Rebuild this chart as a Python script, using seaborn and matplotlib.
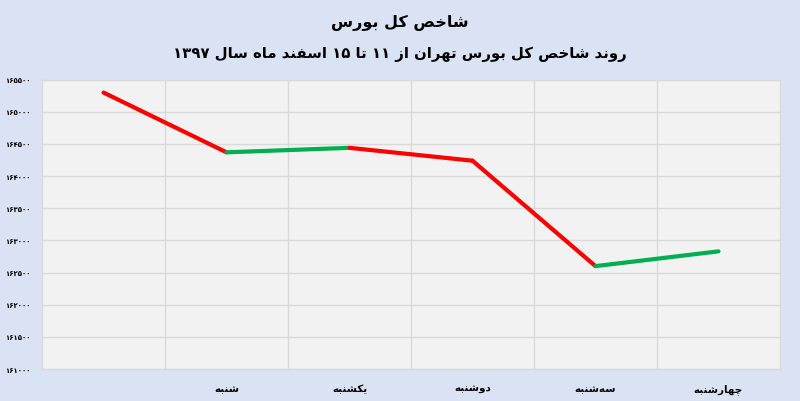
import numpy as np
import pandas as pd
import matplotlib
matplotlib.use('Agg')
import matplotlib.pyplot as plt
import seaborn as sns

# data
days = ['', 'شنبه', 'یکشنبه', 'دوشنبه', 'سه‌شنبه', 'چهارشنبه']
index_values = [165300, 164370, 164440, 164240, 162600, 162830]
y_ticks = list(range(161000, 165501, 500))
title_main = 'شاخص کل بورس'
title_sub = 'روند شاخص کل بورس تهران از ۱۱ تا ۱۵ اسفند ماه سال ۱۳۹۷'

# minimal persian shaping (matplotlib has no bidi / joining)
FORMS = {
    'ا': ('\uFE8D', '\uFE8E', None, None),
    'ب': ('\uFE8F', '\uFE90', '\uFE91', '\uFE92'),
    'ت': ('\uFE95', '\uFE96', '\uFE97', '\uFE98'),
    'خ': ('\uFEA5', '\uFEA6', '\uFEA7', '\uFEA8'),
    'د': ('\uFEA9', '\uFEAA', None, None),
    'ر': ('\uFEAD', '\uFEAE', None, None),
    'ز': ('\uFEAF', '\uFEB0', None, None),
    'س': ('\uFEB1', '\uFEB2', '\uFEB3', '\uFEB4'),
    'ش': ('\uFEB5', '\uFEB6', '\uFEB7', '\uFEB8'),
    'ص': ('\uFEB9', '\uFEBA', '\uFEBB', '\uFEBC'),
    'ف': ('\uFED1', '\uFED2', '\uFED3', '\uFED4'),
    'ل': ('\uFEDD', '\uFEDE', '\uFEDF', '\uFEE0'),
    'م': ('\uFEE1', '\uFEE2', '\uFEE3', '\uFEE4'),
    'ن': ('\uFEE5', '\uFEE6', '\uFEE7', '\uFEE8'),
    'ه': ('\uFEE9', '\uFEEA', '\uFEEB', '\uFEEC'),
    'و': ('\uFEED', '\uFEEE', None, None),
    'ک': ('\uFB8E', '\uFB8F', '\uFB90', '\uFB91'),
    'ی': ('\uFBFC', '\uFBFD', '\uFBFE', '\uFBFF'),
    'چ': ('\uFB7A', '\uFB7B', '\uFB7C', '\uFB7D'),
}


def joins_next(c):
    return c in FORMS and FORMS[c][2] is not None


def shape_word(word):
    out = []
    for i, c in enumerate(word):
        if c not in FORMS:
            if c != '\u200c':
                out.append(c)
            continue
        prev = word[i - 1] if i > 0 else ''
        nxt = word[i + 1] if i + 1 < len(word) else ''
        p = joins_next(prev)
        n = joins_next(c) and nxt in FORMS
        iso, fin, ini, med = FORMS[c]
        if p and n:
            out.append(med)
        elif n:
            out.append(ini)
        elif p:
            out.append(fin)
        else:
            out.append(iso)
    return ''.join(reversed(out))


def fa(text):
    words = []
    for w in text.split(' '):
        if all('\u06F0' <= ch <= '\u06F9' for ch in w):
            words.append(w)
        else:
            words.append(shape_word(w))
    return ' '.join(reversed(words))


def fa_digits(n):
    return ''.join('۰۱۲۳۴۵۶۷۸۹'[int(d)] for d in str(n))


# one row pair per segment so each piece gets its own colour
rows = []
seg_colors = {}
for i in range(len(index_values) - 1):
    rows.append({'x': i, 'y': index_values[i], 'seg': i})
    rows.append({'x': i + 1, 'y': index_values[i + 1], 'seg': i})
    seg_colors[i] = '#FF0000' if index_values[i + 1] < index_values[i] else '#00B050'
df = pd.DataFrame(rows)

sns.set_style('white')
plt.rcParams['font.family'] = ['DejaVu Sans']
plt.rcParams['text.color'] = 'black'
plt.rcParams['xtick.color'] = 'black'
plt.rcParams['ytick.color'] = 'black'

fig = plt.figure(figsize=(8, 4.02), dpi=100, facecolor='#DAE3F3')
ax = fig.add_axes([0.0525, 0.0796, 0.9225, 0.7197])
ax.set_facecolor('#F2F2F2')

sns.lineplot(data=df, x='x', y='y', hue='seg', palette=seg_colors, legend=False,
             linewidth=3, ax=ax, sort=False)

ax.set_xlim(-0.5, len(days) - 0.5)
ax.set_ylim(y_ticks[0], y_ticks[-1])
ax.set_yticks(y_ticks)
ax.set_yticklabels([fa_digits(v) for v in y_ticks], fontsize=5, fontweight='bold')
ax.set_xticks(range(len(days)))
ax.set_xticklabels([fa(d) for d in days], fontsize=7.5, fontweight='bold')
ax.set_xticks(np.arange(0.5, len(days) - 0.5, 1), minor=True)
ax.tick_params(axis='both', which='both', length=0)
ax.tick_params(axis='x', pad=10)
ax.tick_params(axis='y', pad=8)
ax.grid(True, axis='y', color='#D9D9D9', linewidth=1)
ax.grid(True, axis='x', which='minor', color='#D9D9D9', linewidth=1)
ax.grid(False, axis='x', which='major')
for s in ax.spines.values():
    s.set_color('#D9D9D9')
    s.set_linewidth(1)
ax.set_xlabel('')
ax.set_ylabel('')

fig.text(0.5, 0.942, fa(title_main), ha='center', va='center', fontsize=11.5, fontweight='bold')
fig.text(0.5, 0.866, fa(title_sub), ha='center', va='center', fontsize=10.7, fontweight='bold')

fig.savefig('out.png', dpi=100, facecolor=fig.get_facecolor())
